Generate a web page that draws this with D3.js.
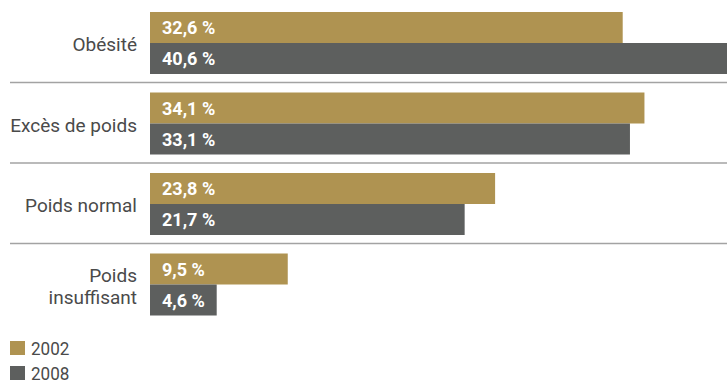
<!DOCTYPE html>
<html>
<head>
<meta charset="utf-8">
<script src="https://cdn.jsdelivr.net/npm/d3@7/dist/d3.min.js"></script>
<style>
  html, body { margin: 0; padding: 0; background: #fff; overflow: hidden; }
  svg { display: block; }
  .cat { font-family: "Roboto", sans-serif; font-size: 19px; fill: #4a4a4a; }
  .val { font-family: "Roboto", sans-serif; font-size: 18px; font-weight: bold; fill: #fff; }
  .leg { font-family: "Roboto", sans-serif; font-size: 18px; fill: #4a4a4a; }
</style>
</head>
<body>
<svg id="chart" width="727" height="384"></svg>
<script>
const categories = ["Obésité", "Excès de poids", "Poids normal", "Poids insuffisant"];
const categoryLines = [["Obésité"], ["Excès de poids"], ["Poids normal"], ["Poids", "insuffisant"]];
const years = ["2002", "2008"];
const values2002 = [32.6, 34.1, 23.8, 9.5];
const values2008 = [40.6, 33.1, 21.7, 4.6];
const colors = ["#AF9351", "#5D5F5E"];

const W = 727, H = 384;
const svg = d3.select("#chart");

const y = d3.scaleBand().domain(categories).range([2, 324]).paddingInner(0);
const sub = d3.scaleBand().domain(years).range([10, 72]);
const x = d3.scaleLinear().domain([0, 40]).range([150, 730]);
const color = d3.scaleOrdinal().domain(years).range(colors);

const rows = categories.map((c, i) => ({
  cat: c,
  lines: categoryLines[i],
  vals: [{ year: "2002", v: values2002[i] }, { year: "2008", v: values2008[i] }]
}));

const fmt = v => d3.format(".1f")(v).replace(".", ",") + " %";

// separators between groups
svg.selectAll("line.sep")
  .data(categories.slice(0, -1))
  .join("line")
  .attr("class", "sep")
  .attr("x1", 10).attr("x2", W)
  .attr("y1", d => y(d) + y.bandwidth())
  .attr("y2", d => y(d) + y.bandwidth())
  .attr("stroke", "#a3a3a3")
  .attr("stroke-width", 1.5);

const g = svg.selectAll("g.row")
  .data(rows)
  .join("g")
  .attr("class", "row")
  .attr("transform", d => `translate(0,${y(d.cat)})`);

g.selectAll("rect")
  .data(d => d.vals)
  .join("rect")
  .attr("x", x(0))
  .attr("y", d => sub(d.year))
  .attr("width", d => Math.min(x(d.v), W) - x(0))
  .attr("height", sub.bandwidth())
  .attr("fill", d => color(d.year));

g.selectAll("text.val")
  .data(d => d.vals)
  .join("text")
  .attr("class", "val")
  .attr("x", x(0) + 12)
  .attr("y", d => sub(d.year) + sub.bandwidth() / 2 + 6.5)
  .text(d => fmt(d.v));

// category labels, right aligned against the bars
g.each(function(d) {
  const n = d.lines.length;
  const cy = 10 + 31;
  const lh = 22;
  d3.select(this).selectAll("text.cat")
    .data(d.lines)
    .join("text")
    .attr("class", "cat")
    .attr("text-anchor", "end")
    .attr("x", 137)
    .attr("y", (t, j) => cy + 8 + (j - (n - 1) / 2) * lh)
    .text(t => t);
});

// legend
const leg = svg.selectAll("g.leg")
  .data(years)
  .join("g")
  .attr("class", "leg")
  .attr("transform", (d, i) => `translate(10,${341 + i * 25})`);
leg.append("rect")
  .attr("width", 15).attr("height", 14)
  .attr("fill", d => color(d));
leg.append("text")
  .attr("class", "leg")
  .attr("transform", "translate(21,14) scale(0.95,1)")
  .text(d => d);
</script>
</body>
</html>
